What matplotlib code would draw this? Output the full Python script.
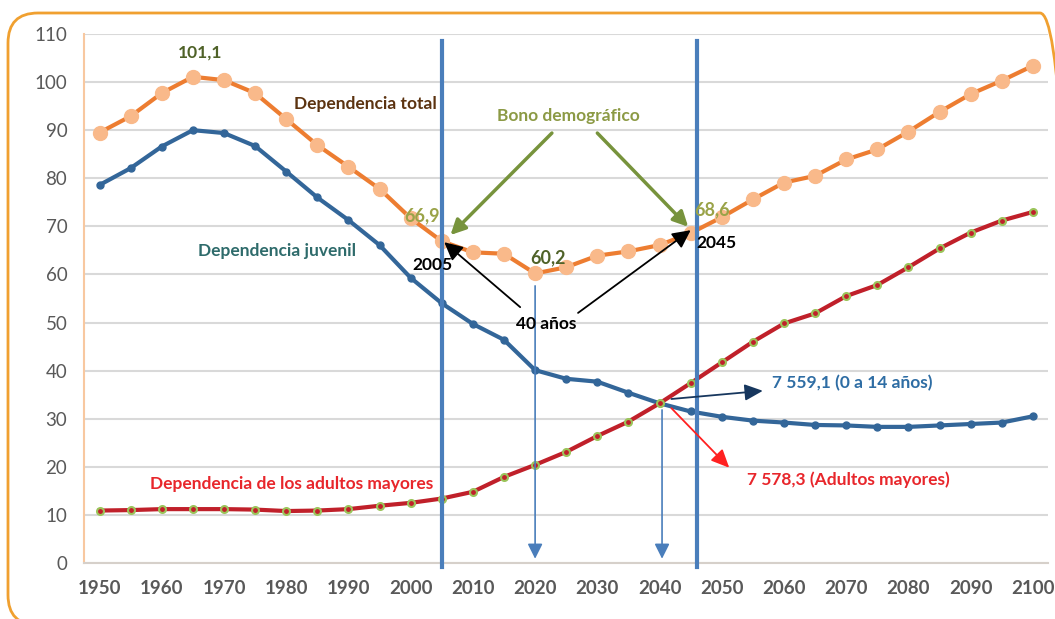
import matplotlib
matplotlib.use("Agg")
from matplotlib import pyplot as plt
from matplotlib.patches import FancyBboxPatch, FancyArrowPatch

plt.rcParams['font.family'] = ['Lato', 'DejaVu Sans']

years = list(range(1950, 2101, 5))
total = [89.5, 92.9, 97.7, 101.1, 100.4, 97.7, 92.3, 86.9, 82.4, 77.8, 71.7,
         66.9, 64.6, 64.3, 60.2, 61.5, 63.9, 64.8, 66.1, 68.6, 71.9, 75.6,
         79.1, 80.5, 83.9, 86.0, 89.7, 93.8, 97.5, 100.3, 103.4]
juvenil = [78.6, 82.1, 86.6, 90.0, 89.4, 86.7, 81.4, 76.0, 71.3, 66.1, 59.3,
           54.0, 49.7, 46.4, 40.1, 38.3, 37.7, 35.4, 33.2, 31.5, 30.4, 29.6,
           29.2, 28.7, 28.6, 28.3, 28.3, 28.6, 28.9, 29.2, 30.5]
adultos = [10.9, 11.0, 11.2, 11.2, 11.2, 11.1, 10.8, 10.9, 11.2, 11.9, 12.5,
           13.4, 14.8, 17.9, 20.4, 23.1, 26.4, 29.4, 33.2, 37.4, 41.7, 46.0,
           49.8, 51.9, 55.5, 57.8, 61.5, 65.4, 68.7, 71.2, 73.0]
xticks = list(range(1950, 2101, 10))
yticks = list(range(0, 111, 10))
bono_years = [2005, 2046]
cruce_years = [2020, 2040.4]

fig = plt.figure(figsize=(10.55, 6.19), dpi=100)
ax = fig.add_axes([0.0796, 0.0905, 0.9142, 0.8546])

ax.set_xlim(1947.5, 2102.5)
ax.set_ylim(0, 110)
ax.set_yticks(yticks)
ax.set_xticks(xticks)
ax.set_yticklabels([str(v) for v in yticks], fontsize=13.5, color='#595959')
ax.set_xticklabels([str(v) for v in xticks], fontsize=13.5, color='#595959',
                   fontweight='bold')
ax.tick_params(axis='y', length=0, pad=12)
ax.tick_params(axis='x', length=0, pad=12)
ax.grid(axis='y', color='#d9d9d9', lw=1.5)
ax.set_axisbelow(True)
for s in ['top', 'right']:
    ax.spines[s].set_visible(False)
ax.spines['left'].set_color('#f8c8a0')
ax.spines['left'].set_linewidth(1.5)
ax.spines['bottom'].set_color('#d6d0ca')
ax.spines['bottom'].set_linewidth(1.5)

# series
ax.plot(years, total, color='#ed7d31', lw=3, marker='o', ms=10,
        mfc='#f9b98a', mec='#f9b98a', zorder=4)
ax.plot(years, juvenil, color='#336699', lw=3, marker='o', ms=5,
        mfc='#336699', mec='#336699', zorder=4)
ax.plot(years, adultos, color='#c0202a', lw=3, marker='o', ms=5,
        mfc='#c0202a', mec='#9bc45a', mew=1.5, zorder=4)

# bono demografico limits
for yr in bono_years:
    ax.plot([yr, yr], [-0.8, 108.5], color='#4a7ebb', lw=3, clip_on=False,
            zorder=5)

# thin down arrows
for yr, top in zip(cruce_years, [58.2, 32.4]):
    ax.annotate('', xy=(yr, 0.3), xytext=(yr, top),
                arrowprops=dict(arrowstyle='-|>,head_length=0.9,head_width=0.45',
                                color='#4a7ebb', lw=1.2), zorder=5)

def arrow(p0, p1, color, lw, hl, hw):
    a = FancyArrowPatch(p0, p1, arrowstyle='-|>,head_length=%s,head_width=%s' % (hl, hw),
                        color=color, lw=lw, shrinkA=0, shrinkB=0, zorder=6,
                        mutation_scale=10)
    ax.add_patch(a)

arrow((2022.7, 89.4), (2006.4, 68.2), '#77933c', 2.5, 0.9, 0.45)
arrow((2030.0, 89.4), (2044.6, 69.9), '#77933c', 2.5, 0.9, 0.45)
arrow((2017.6, 53.2), (2005.4, 66.7), 'black', 1.3, 1.1, 0.55)
arrow((2026.9, 52.0), (2045.0, 69.2), 'black', 1.3, 1.1, 0.55)
arrow((2041.9, 34.1), (2056.6, 35.8), '#17375e', 1.3, 1.1, 0.5)
arrow((2041.9, 32.2), (2051.2, 19.8), '#ff2020', 1.3, 1.1, 0.5)

# labels
def label(x, y, s, color, ha='center', size=12.5, weight='bold'):
    ax.text(x, y, s, color=color, ha=ha, va='center', fontsize=size,
            fontweight=weight, zorder=7)

label(1966.2, 106.1, '101,1', '#4f6228')
label(1992.7, 95.4, 'Dependencia total', '#5c3310')
label(2025.3, 93.0, 'Bono demográfico', '#8c9a45')
label(2001.9, 72.2, '66,9', '#9aa348', size=13)
label(2048.4, 73.4, '68,6', '#9aa348', size=13)
label(2022.0, 63.4, '60,2', '#4f6228', size=13)
label(2003.5, 62.0, '2005', 'black')
label(2049.2, 66.5, '2045', 'black')
label(2021.8, 49.7, '40 años', 'black')
label(1978.6, 64.9, 'Dependencia juvenil', '#2e6b6b')
label(1980.8, 16.4, 'Dependencia de los adultos mayores', '#e8262b')
label(2058.1, 37.4, '7 559,1 (0 a 14 años)', '#2e6da4', ha='left')
label(2054.1, 17.3, '7 578,3 (Adultos mayores)', '#e8262b', ha='left')

# rounded frame
frame = FancyBboxPatch((0.08, -0.06), 10.62, 6.12,
                       boxstyle='round,pad=0,rounding_size=0.3',
                       transform=fig.dpi_scale_trans, fill=False,
                       edgecolor='#f0a030', lw=2, clip_on=False)
fig.patches.append(frame)

fig.savefig('out.png', dpi=100)
